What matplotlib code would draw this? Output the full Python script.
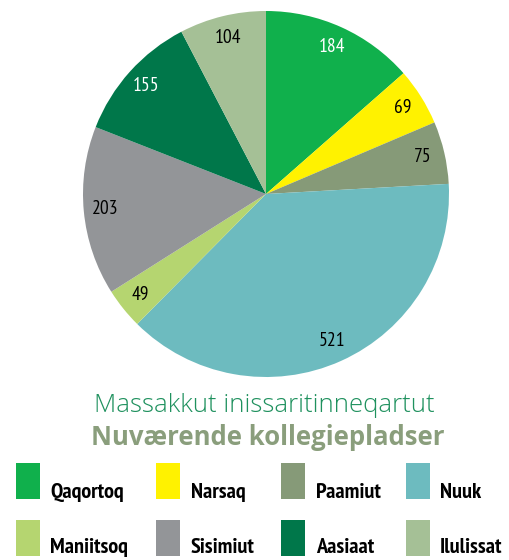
import matplotlib
matplotlib.use("Agg")
import matplotlib.pyplot as plt
from matplotlib.patches import Rectangle

# ── Data ─────────────────────────────────────────────────────────────────────
towns  = ["Qaqortoq", "Narsaq", "Paamiut", "Nuuk",
          "Maniitsoq", "Sisimiut", "Aasiaat", "Ilulissat"]
places = [184, 69, 75, 521, 49, 203, 155, 104]
colors = ["#10b04c", "#fff200", "#869a78", "#6dbbbf",
          "#b5d570", "#939598", "#00774a", "#a5c096"]
label_colors = ["white", "black", "black", "black",
                "black", "black", "white", "black"]

title_kl = "Massakkut inissaritinneqartut"
title_da = "Nuværende kollegiepladser"

NARROW = ["PT Sans Narrow", "DejaVu Sans"]
TITLE  = ["Open Sans", "DejaVu Sans"]

W, H = 509, 560
fig = plt.figure(figsize=(W / 100, H / 100), dpi=100)

# ── Pie ──────────────────────────────────────────────────────────────────────
cx, cy, r = 266, 194, 183
ax = fig.add_axes([(cx - r) / W, (H - cy - r) / H, 2 * r / W, 2 * r / H])
wedges, texts = ax.pie(
    places, labels=[str(v) for v in places], colors=colors,
    startangle=90, counterclock=False, labeldistance=0.88,
    wedgeprops=dict(linewidth=0),
    textprops=dict(fontsize=14, family=NARROW, ha="center", va="center"),
)
for t, c in zip(texts, label_colors):
    t.set_color(c)
    t.set_horizontalalignment("center")
ax.set_xlim(-1, 1)
ax.set_ylim(-1, 1)
ax.set_aspect("equal")
ax.axis("off")

# ── Titles ───────────────────────────────────────────────────────────────────
fig.text(264 / W, 1 - 412 / H, title_kl, ha="center", va="baseline",
         fontsize=18.5, color="#1f915e", family=TITLE, fontweight=300)
fig.text(268 / W, 1 - 445 / H, title_da, ha="center", va="baseline",
         fontsize=18.5, color="#8a9e7c", family=TITLE, fontweight="bold")

# ── Legend (manual, 4 columns x 2 rows) ──────────────────────────────────────
sq_x   = [16, 156, 281, 406]
txt_x  = [50, 191, 316, 440]
sq_top = [463, 520]
base_y = [498, 553]
for i, (name, col) in enumerate(zip(towns, colors)):
    row, c = divmod(i, 4)
    fig.add_artist(Rectangle((sq_x[c] / W, 1 - (sq_top[row] + 36) / H),
                             24 / W, 36 / H, transform=fig.transFigure,
                             facecolor=col, edgecolor="none"))
    fig.text(txt_x[c] / W, 1 - base_y[row] / H, name, ha="left",
             va="baseline", fontsize=16, fontweight="bold", family=NARROW,
             color="black")

fig.savefig("out.png", dpi=100)
